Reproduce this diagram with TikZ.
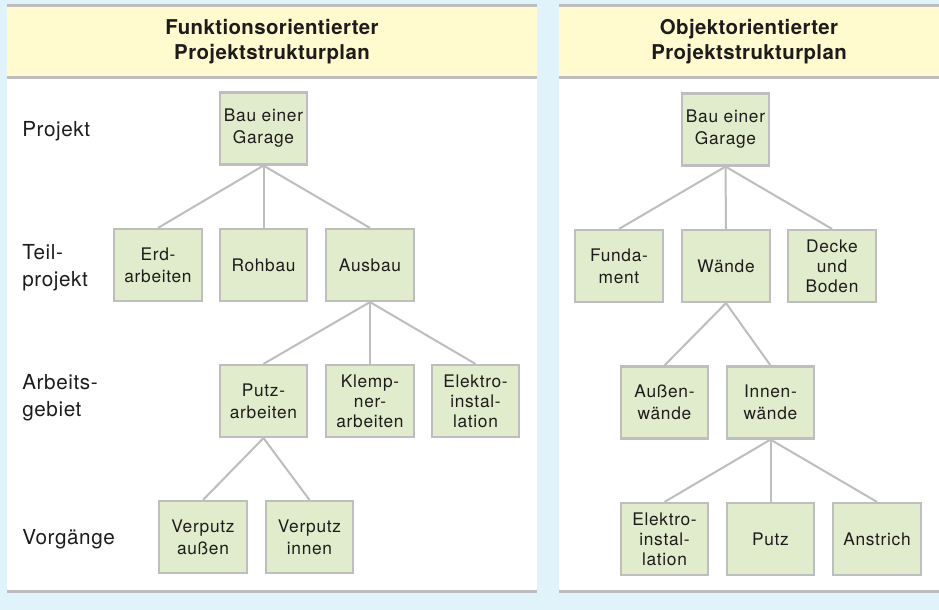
\documentclass[tikz,border=0pt]{standalone}
\usepackage{fontspec}
\setmainfont{TeX Gyre Heros}
\newfontfamily\boxfont{TeX Gyre Heros}[LetterSpace=4.0]
\newfontfamily\levelfont{TeX Gyre Heros}[LetterSpace=3.0]
\newfontfamily\headfont{TeX Gyre Heros}[LetterSpace=2.0]
\definecolor{skyback}{HTML}{E0F2FA}
\definecolor{headyellow}{HTML}{FFFBCE}
\definecolor{rulegray}{HTML}{BDBDBF}
\definecolor{boxgreen}{HTML}{E0ECCB}
\definecolor{boxgray}{HTML}{BEBEBE}
\definecolor{inkdark}{HTML}{1E1B1C}
\begin{document}
\begin{tikzpicture}[x=0.75pt,y=-0.75pt,
  wbs/.style={draw=boxgray, line width=1.6pt, fill=boxgreen, inner sep=0pt,
    minimum width=65.5pt, minimum height=54pt, align=center, text=inkdark,
    font=\boxfont\fontsize{13}{16.5}\selectfont},
  wbstight/.style={wbs, font=\boxfont\fontsize{13}{15}\selectfont},
  level/.style={anchor=west, align=left, inner sep=0pt, text=inkdark,
    font=\levelfont\fontsize{15.5}{20}\selectfont},
  title/.style={align=center, inner sep=0pt, text=inkdark,
    font=\headfont\bfseries\fontsize{15.3}{18.75}\selectfont},
  link/.style={draw=boxgray, line width=1.5pt},
  hrule/.style={draw=rulegray, line width=2pt}]
\useasboundingbox (0,0) rectangle (939,610);
\fill[skyback] (0,0) rectangle (939,610);

% two panels: yellow header, white body, grey rules
\foreach \xa/\xb in {7/537, 559/939}{
  \fill[white] (\xa,5.5) rectangle (\xb,591.8);
  \fill[headyellow] (\xa,5.5) rectangle (\xb,77.5);
  \draw[hrule] (\xa,5.5) -- (\xb,5.5);
  \draw[hrule] (\xa,77.5) -- (\xb,77.5);
  \draw[hrule] (\xa,591.8) -- (\xb,591.8);
}

\node[title] (tl) at (272,41.5) {Funktionsorientierter\\Projektstrukturplan};
\node[title] (tr) at (749,41.5) {Objektorientierter\\Projektstrukturplan};

% level labels
\node[level] (lv1) at (22,131) {Projekt};
\node[level] (lv2) at (22,268) {Teil-\\projekt};
\node[level] (lv3) at (22,398) {Arbeits-\\gebiet};
\node[level] (lv4) at (22,539) {Vorgänge};

% function-oriented structure
\node[wbs] (f0) at (263.5,128.5) {Bau einer\\Garage};
\node[wbs] (f1) at (158,265) {Erd-\\arbeiten};
\node[wbs] (f2) at (263.5,265) {Rohbau};
\node[wbs] (f3) at (370,265) {Ausbau};
\node[wbs] (f31) at (263.5,401) {Putz-\\arbeiten};
\node[wbstight] (f32) at (370,401) {Klemp-\\ner-\\arbeiten};
\node[wbstight] (f33) at (475.5,401) {Elektro-\\instal-\\lation};
\node[wbs] (f311) at (203,537) {Verputz\\außen};
\node[wbs] (f312) at (309.5,537) {Verputz\\innen};

\foreach \c in {f1,f2,f3} \draw[link] (f0.south) -- (\c.north);
\foreach \c in {f31,f32,f33} \draw[link] (f3.south) -- (\c.north);
\foreach \c in {f311,f312} \draw[link] (f31.south) -- (\c.north);

% object-oriented structure
\node[wbs] (o0) at (725.5,129.5) {Bau einer\\Garage};
\node[wbs] (o1) at (619,266) {Funda-\\ment};
\node[wbs] (o2) at (726,266) {Wände};
\node[wbstight] (o3) at (832,266) {Decke\\und\\Boden};
\node[wbs] (o21) at (664.5,402.5) {Außen-\\wände};
\node[wbs] (o22) at (770.5,402.5) {Innen-\\wände};
\node[wbstight] (o221) at (664.5,539) {Elektro-\\instal-\\lation};
\node[wbs] (o222) at (770.5,539) {Putz};
\node[wbs] (o223) at (877,539) {Anstrich};

\foreach \c in {o1,o2,o3} \draw[link] (o0.south) -- (\c.north);
\foreach \c in {o21,o22} \draw[link] (o2.south) -- (\c.north);
\foreach \c in {o221,o222,o223} \draw[link] (o22.south) -- (\c.north);
\end{tikzpicture}
\end{document}
